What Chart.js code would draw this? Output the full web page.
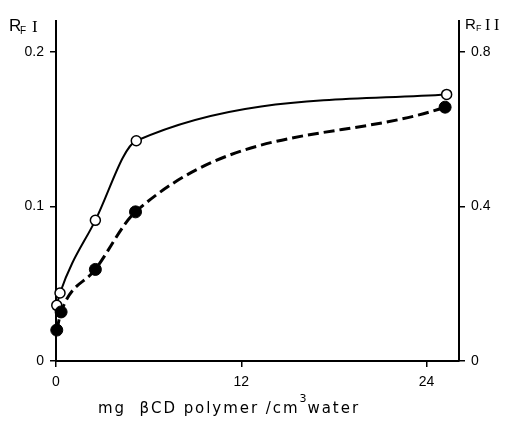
<!DOCTYPE html>
<html>
<head>
<meta charset="utf-8">
<script src="https://cdn.jsdelivr.net/npm/chart.js@4.4.0/dist/chart.umd.min.js"></script>
<style>
html, body { margin: 0; padding: 0; background: #fff; }
</style>
</head>
<body>
<canvas id="rfChart" width="505" height="425"></canvas>
<script>
// mg beta-CD polymer / cm3 water
const concOpen = [0.05, 0.26, 2.55, 5.2, 25.3];
const rfI = [0.036, 0.044, 0.091, 0.1425, 0.1725];
const concFilled = [0.05, 0.33, 2.55, 5.15, 25.2];
const rfII = [0.080, 0.127, 0.237, 0.386, 0.657];

const xTicks = [0, 12, 24];
const rfITicks = [0, 0.1, 0.2];
const rfIITicks = [0, 0.4, 0.8];

const toPoints = (xs, ys) => xs.map((x, i) => ({ x: x, y: ys[i] }));
const fixTicks = list => scale => { scale.ticks = list.map(v => ({ value: v })); };

const tickFont = { family: '"Liberation Sans", Arial, sans-serif', size: 14 };

function axisOpts(extra) {
    return Object.assign({
        type: 'linear',
        grid: { drawOnChartArea: false, drawTicks: true, tickLength: 6, color: '#000', lineWidth: 1.5 },
        border: { display: true, color: '#000', width: 2 },
        ticks: { color: '#000', font: tickFont, maxRotation: 0, callback: v => String(v) }
    }, extra);
}

const labelPlugin = {
    id: 'rfLabels',
    afterDraw(chart) {
        const ctx = chart.ctx;
        ctx.save();
        ctx.fillStyle = '#000';
        ctx.textAlign = 'left';
        ctx.textBaseline = 'alphabetic';

        // left axis name
        ctx.font = '17px "Liberation Sans", Arial, sans-serif';
        ctx.fillText('R', 9, 31);
        ctx.font = '10px "Liberation Sans", Arial, sans-serif';
        ctx.fillText('F', 20, 34);
        ctx.font = '17px "Liberation Serif", serif';
        ctx.fillText('I', 32, 32);

        // right axis name
        ctx.font = '15px "Liberation Sans", Arial, sans-serif';
        ctx.fillText('R', 465, 29);
        ctx.font = '9px "Liberation Sans", Arial, sans-serif';
        ctx.fillText('F', 476, 31);
        ctx.font = '16px "Liberation Serif", serif';
        ctx.fillText('I', 485, 30);
        ctx.fillText('I', 494, 30);

        // x axis title, stretched to span 98..357 like the original lettering
        const head = 'mg  βCD polymer /cm';
        const sup = '3';
        const tail = 'water';
        const mainFont = '15px "DejaVu Sans", sans-serif';
        const supFont = '11px "DejaVu Sans", sans-serif';
        ctx.font = supFont;
        const wSup = ctx.measureText(sup).width;
        ctx.font = mainFont;
        const w0 = ctx.measureText(head).width + ctx.measureText(tail).width;
        const gaps = head.length + tail.length - 1;
        const ls = Math.max(0, (357 - 98 - wSup - w0) / gaps);
        ctx.letterSpacing = ls.toFixed(2) + 'px';
        ctx.fillText(head, 98, 413);
        let x = 98 + ctx.measureText(head).width;
        ctx.letterSpacing = '0px';
        ctx.font = supFont;
        ctx.fillText(sup, x, 402);
        x += wSup + 1;
        ctx.font = mainFont;
        ctx.letterSpacing = ls.toFixed(2) + 'px';
        ctx.fillText(tail, x, 413);
        ctx.restore();
    }
};

const ctx = document.getElementById('rfChart');
new Chart(ctx, {
    type: 'scatter',
    data: {
        datasets: [{
            label: 'RF II',
            data: toPoints(concFilled, rfII),
            yAxisID: 'y2',
            showLine: true,
            cubicInterpolationMode: 'monotone',
            borderColor: '#000',
            borderWidth: 3,
            borderDash: [11, 5],
            pointRadius: 6,
            pointBackgroundColor: '#000',
            pointBorderColor: '#000',
            pointBorderWidth: 1,
            clip: false,
            order: 0
        }, {
            label: 'RF I',
            data: toPoints(concOpen, rfI),
            yAxisID: 'y',
            showLine: true,
            cubicInterpolationMode: 'monotone',
            borderColor: '#000',
            borderWidth: 2,
            pointRadius: 5,
            pointBackgroundColor: '#fff',
            pointBorderColor: '#000',
            pointBorderWidth: 1.5,
            clip: false,
            order: 1
        }]
    },
    options: {
        responsive: false,
        animation: false,
        layout: { padding: { top: 21, left: 0, right: 0, bottom: 0 } },
        plugins: {
            legend: { display: false },
            tooltip: { enabled: false }
        },
        scales: {
            x: axisOpts({
                position: 'bottom',
                min: 0,
                max: 26.1,
                afterBuildTicks: fixTicks(xTicks),
                afterFit: s => { s.height = 64; },
                ticks: { color: '#000', font: tickFont, maxRotation: 0, padding: 7, callback: v => String(v) }
            }),
            y: axisOpts({
                position: 'left',
                min: 0,
                max: 0.22,
                afterBuildTicks: fixTicks(rfITicks),
                afterFit: s => { s.width = 56; },
                ticks: { color: '#000', font: tickFont, padding: 6, callback: v => String(v) }
            }),
            y2: axisOpts({
                position: 'right',
                min: 0,
                max: 0.88,
                afterBuildTicks: fixTicks(rfIITicks),
                afterFit: s => { s.width = 46; },
                ticks: { color: '#000', font: tickFont, padding: 6, callback: v => String(v) }
            })
        }
    },
    plugins: [labelPlugin]
});
</script>
</body>
</html>
